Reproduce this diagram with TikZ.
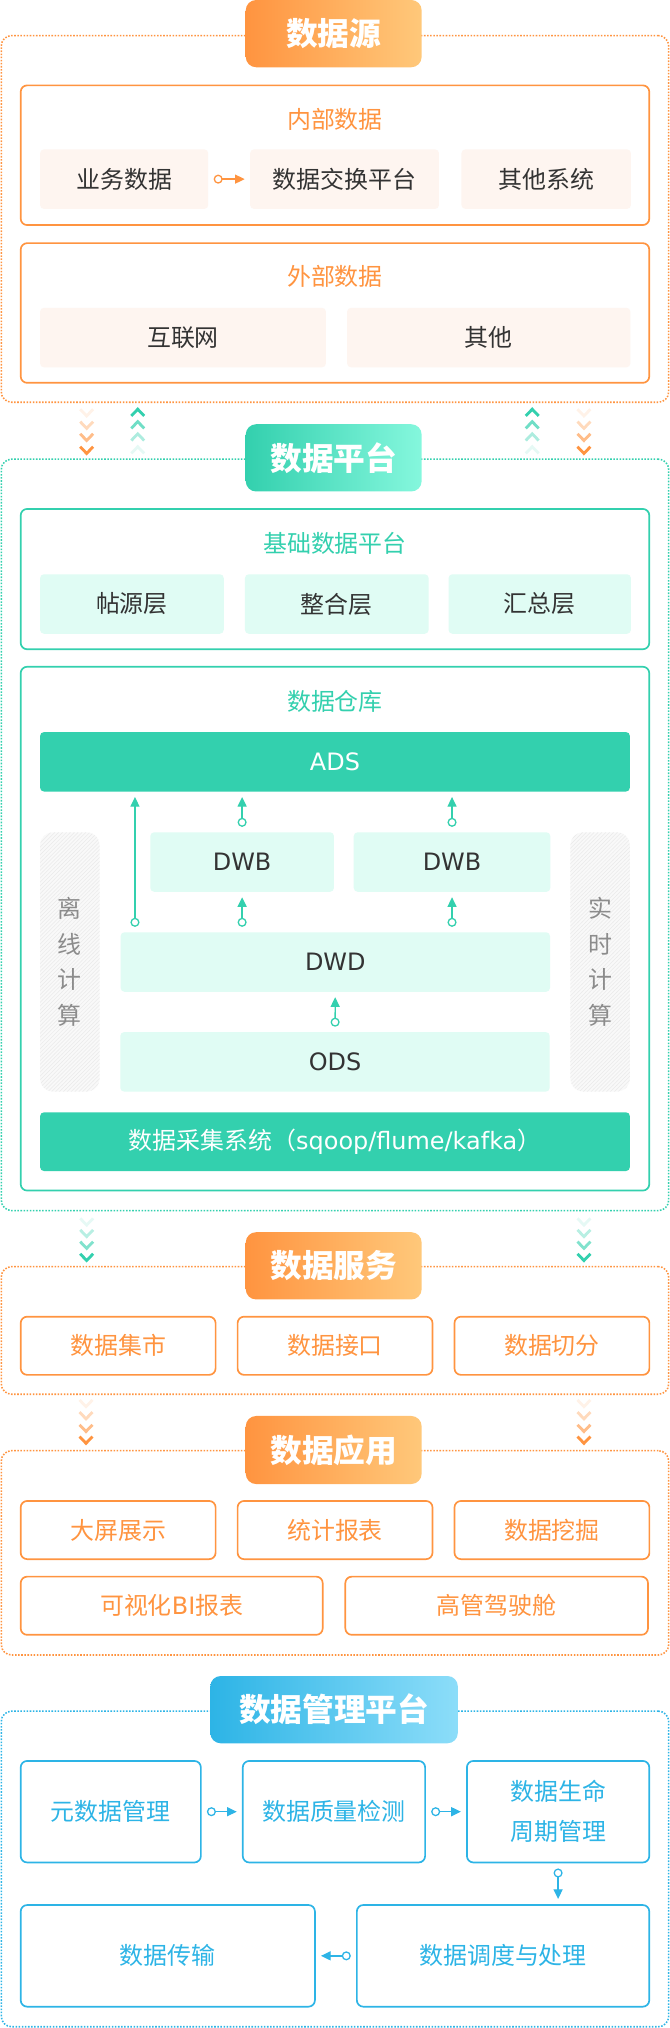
\documentclass[tikz,border=0pt]{standalone}
\usepackage{fontspec}
\setmainfont{Noto Sans CJK SC}
\newfontfamily\latin{DejaVu Sans}
\usepackage{tikz}
\usetikzlibrary{arrows.meta, positioning, calc, patterns}
\definecolor{myorange}{RGB}{255,148,64}
\definecolor{myorangelt}{RGB}{255,200,122}
\definecolor{mygreen}{RGB}{51,208,174}
\definecolor{mygreenlt}{RGB}{133,247,221}
\definecolor{myblue}{RGB}{45,180,230}
\definecolor{mybluelt}{RGB}{140,221,249}
\definecolor{mydark}{RGB}{51,51,51}
\definecolor{mygray}{RGB}{140,140,140}
\definecolor{hdrorange}{RGB}{254,245,240}
\definecolor{hdrgreen}{RGB}{224,252,244}
\definecolor{hdrgray}{RGB}{249,249,249}
\definecolor{hatchgray}{RGB}{234,234,234}
\newcommand{\bodyfont}{\fontsize{18.5}{22}\selectfont}
\newcommand{\badgefont}{\bfseries\fontsize{24.5}{28}\selectfont}
\tikzset{
  badge/.style={rectangle, rounded corners=8pt, minimum width=136pt,
    minimum height=52pt, inner sep=0pt, text=white, font=\badgefont},
  orbadge/.style={badge, left color=myorange, right color=myorangelt},
  grbadge/.style={badge, left color=mygreen, right color=mygreenlt},
  blbadge/.style={badge, left color=myblue, right color=mybluelt},
  frame/.style={rectangle, rounded corners=8pt, line width=1.2pt,
    dash pattern=on 1.2pt off 1.2pt, minimum width=516pt, inner sep=0pt},
  orframe/.style={frame, draw=myorange},
  grframe/.style={frame, draw=mygreen},
  blframe/.style={frame, draw=myblue},
  panel/.style={rectangle, rounded corners=5pt, line width=1.3pt, fill=white,
    minimum width=486pt, inner sep=0pt},
  orpanel/.style={panel, draw=myorange},
  grpanel/.style={panel, draw=mygreen},
  ptitle/.style={font=\bodyfont, inner sep=0pt},
  cell/.style={rectangle, rounded corners=3pt, inner sep=0pt,
    minimum height=46pt, font=\bodyfont, text=mydark},
  orcell/.style={cell, fill=hdrorange},
  grcell/.style={cell, fill=hdrgreen},
  latin/.style={font=\latin\bodyfont},
  barcell/.style={cell, fill=mygreen, text=white, minimum width=456pt},
  sidecell/.style={cell, fill=hdrgray,
    postaction={pattern=north east lines, pattern color=hatchgray},
    text=mygray, minimum width=46pt, minimum height=200.5pt, align=center,
    rounded corners=10pt, font=\fontsize{18.5}{27.5}\selectfont},
  obox/.style={rectangle, rounded corners=5pt, line width=1.3pt, draw=myorange,
    fill=white, text=myorange, font=\bodyfont, minimum width=150.7pt,
    minimum height=45pt, inner sep=0pt},
  bbox/.style={rectangle, rounded corners=5pt, line width=1.3pt, draw=myblue,
    fill=white, text=myblue, font=\fontsize{18.5}{31}\selectfont,
    minimum height=78.5pt, align=center, inner sep=0pt},
  link/.style={{Circle[open, length=7pt, width=7pt]}-{Triangle[length=7.5pt, width=7pt]},
    line width=1pt, shorten <=4pt, shorten >=4pt},
  orlink/.style={link, color=myorange},
  grlink/.style={link, color=mygreen},
  bllink/.style={link, color=myblue},
  pics/chevdown/.style={code={\draw[line width=2.2pt, line join=miter] (-5,-2.6) -- (0,2.6) -- (5,-2.6);}},
  pics/chevup/.style={code={\draw[line width=2.2pt, line join=miter] (-5,2.6) -- (0,-2.6) -- (5,2.6);}}
}
\begin{document}
\begin{tikzpicture}[x=1pt, y=-1pt]
  \useasboundingbox (0,0) rectangle (518,1568);

  % Data source
  \node[orframe, minimum height=283.5pt] (srcfrm) at (259,169.25) {};
  \node[orbadge] (src) at (258,26) {数据源};
  \node[orpanel, minimum height=108pt] (inner) at (259,120) {};
  \node[ptitle, text=myorange] (innert) at (259,92) {内部数据};
  \node[orcell, minimum width=130pt] (biz) at (96,138.5) {业务数据};
  \node[orcell, minimum width=146pt, right=32pt of biz] (exch) {数据交换平台};
  \node[orcell, minimum width=131pt, right=17pt of exch] (other) {其他系统};
  \draw[orlink] (biz) -- (exch);
  \node[orpanel, minimum height=108pt] (outer) at (259,242) {};
  \node[ptitle, text=myorange] (outert) at (259,214) {外部数据};
  \node[orcell, minimum width=221pt] (web) at (141.5,261) {互联网};
  \node[orcell, minimum width=219pt, right=16pt of web] (misc) {其他};

  % Chevrons
  \foreach \y/\op in {319/0.12, 328.6/0.35, 338/0.62, 348/1} {
    \pic[myorange, opacity=\op] at (67,\y) {chevdown};
    \pic[myorange, opacity=\op] at (451.5,\y) {chevdown};
  }
  \foreach \y/\op in {319/1, 328.6/0.7, 338/0.4, 348/0.12} {
    \pic[mygreen, opacity=\op] at (106.5,\y) {chevup};
    \pic[mygreen, opacity=\op] at (411.5,\y) {chevup};
  }

  % Data platform
  \node[grframe, minimum height=581pt] (platfrm) at (259,645.5) {};
  \node[grbadge] (plat) at (258,354) {数据平台};
  \node[grpanel, minimum height=108.5pt] (base) at (259,447.75) {};
  \node[ptitle, text=mygreen] (baset) at (259,420) {基础数据平台};
  \node[grcell, minimum width=142pt] (tie) at (102,467) {帖源层};
  \node[grcell, minimum width=142pt, right=16pt of tie] (merge) {整合层};
  \node[grcell, minimum width=141pt, right=15pt of merge] (total) {汇总层};
  \node[grpanel, minimum height=405pt] (dw) at (259,718) {};
  \node[ptitle, text=mygreen] (dwt) at (259,542.5) {数据仓库};
  \node[barcell, latin] (ads) at (259,589) {ADS};
  \node[grcell, latin, minimum width=142pt] (dwb1) at (187.2,666.5) {DWB};
  \node[grcell, latin, minimum width=152pt] (dwb2) at (349.5,666.5) {DWB};
  \node[grcell, latin, minimum width=332pt] (dwd) at (259.25,743.8) {DWD};
  \node[grcell, latin, minimum width=332pt] (ods) at (259,821) {ODS};
  \node[sidecell] (offline) at (54,743.75) {离\\线\\计\\算};
  \node[sidecell] (realtime) at (464,743.75) {实\\时\\计\\算};
  \node[barcell, minimum height=45.4pt] (collect) at (259,882.7) {数据采集系统（{\latin sqoop/flume/kafka}）};
  \coordinate (tap) at ($(dwd.north west)+(11.3,0)$);
  \draw[grlink] (tap) -- (tap |- ads.south);
  \draw[grlink] (dwb1.north) -- (dwb1.north |- ads.south);
  \draw[grlink] (dwb2.north) -- (dwb2.north |- ads.south);
  \draw[grlink] (dwb1.south |- dwd.north) -- (dwb1.south);
  \draw[grlink] (dwb2.south |- dwd.north) -- (dwb2.south);
  \draw[grlink] (ods) -- (dwd);

  % Chevrons
  \foreach \y/\op in {944.6/0.12, 953.5/0.35, 962.6/0.62, 972/1} {
    \pic[mygreen, opacity=\op] at (67,\y) {chevdown};
    \pic[mygreen, opacity=\op] at (451.5,\y) {chevdown};
  }

  % Data services
  \node[orframe, minimum height=98.7pt] (svcfrm) at (259,1028.65) {};
  \node[orbadge] (svc) at (258,978.7) {数据服务};
  \node[obox] (mart) at (91.35,1040.5) {数据集市};
  \node[obox, right=15.7pt of mart] (api) {数据接口};
  \node[obox, right=15.7pt of api] (slice) {数据切分};

  % Chevrons
  \foreach \y/\op in {1085/0.12, 1094.4/0.35, 1104.2/0.62, 1113.3/1} {
    \pic[myorange, opacity=\op] at (66.5,\y) {chevdown};
    \pic[myorange, opacity=\op] at (451.5,\y) {chevdown};
  }

  % Data applications
  \node[orframe, minimum height=158pt] (appfrm) at (259,1200.6) {};
  \node[orbadge, minimum height=52.6pt] (app) at (258,1121.1) {数据应用};
  \node[obox] (screen) at (91.35,1183) {大屏展示};
  \node[obox, right=15.7pt of screen] (report) {统计报表};
  \node[obox, right=15.7pt of report] (mining) {数据挖掘};
  \node[obox, minimum width=233.5pt] (bi) at (132.75,1241.5) {可视化{\latin BI}报表};
  \node[obox, minimum width=234pt, right=16.2pt of bi] (cockpit) {高管驾驶舱};

  % Data management
  \node[blframe, minimum height=244pt] (mgtfrm) at (259,1445) {};
  \node[blbadge, minimum width=191.4pt] (mgt) at (258.3,1321.85) {数据管理平台};
  \node[bbox, minimum width=139.3pt] (meta) at (85.65,1400.75) {元数据管理};
  \node[bbox, minimum width=141pt, right=31.1pt of meta] (qual) {数据质量检测};
  \node[bbox, minimum width=141pt, right=31pt of qual] (life) {数据生命\\周期管理};
  \node[bbox, minimum width=226.1pt, minimum height=78.6pt] (sched) at (388.95,1512.2) {数据调度与处理};
  \node[bbox, minimum width=227.5pt, minimum height=78.6pt, left=31.1pt of sched] (trans) {数据传输};
  \draw[bllink] (meta) -- (qual);
  \draw[bllink] (qual) -- (life);
  \draw[bllink] (life.south) -- (life.south |- sched.north);
  \draw[bllink] (sched) -- (trans);
\end{tikzpicture}
\end{document}
